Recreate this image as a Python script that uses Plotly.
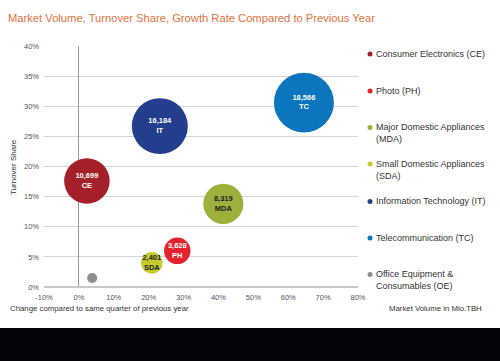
import plotly.graph_objects as go

# ---- data ----
codes = ["CE", "PH", "MDA", "SDA", "IT", "TC", "OE"]
names = ["Consumer Electronics (CE)", "Photo (PH)", "Major Domestic Appliances<br>(MDA)",
         "Small Domestic Appliances<br>(SDA)", "Information Technology (IT)",
         "Telecommunication (TC)", "Office Equipment &<br>Consumables (OE)"]
growth = [2.3, 28.2, 41.4, 20.9, 23.2, 64.5, 3.8]          # % change vs same quarter previous year
share = [17.6, 6.0, 13.8, 4.0, 26.7, 30.6, 1.5]            # turnover share %
volume = [10699, 3628, 8319, 2401, 16184, 18566, 520]      # market volume Mio.TBH
volume_labels = ["10,699", "3,628", "8,319", "2,401", "16,184", "18,566", ""]
colors = ["#a51f29", "#e1242b", "#9db03c", "#c6cc2e", "#223e8d", "#0b76be", "#8e8e8e"]
text_colors = ["white", "white", "#222222", "#222222", "white", "white", "white"]
x_ticks = [-10, 0, 10, 20, 30, 40, 50, 60, 70, 80]
y_ticks = [0, 5, 10, 15, 20, 25, 30, 35, 40]
x_tick_text = [f"{v}%" for v in x_ticks]
y_tick_text = [f"{v}%" for v in y_ticks]

W, H = 500, 361
L, R, T, B = 44, 142, 46, 74
PW, PH_ = W - L - R, H - T - B

def px(x):
    return (x - L) / PW

def py(y):
    return (H - B - y) / PH_

FONT = "Liberation Sans, Arial, sans-serif"

fig = go.Figure()
fig.add_trace(go.Scatter(
    x=growth, y=share, mode="markers+text",
    marker=dict(size=volume, sizemode="area", sizeref=2 / 0.44 ** 2,
                color=colors, opacity=1, line=dict(width=0)),
    text=[f"{v}<br>{c}" if v else "" for v, c in zip(volume_labels, codes)],
    textposition="middle center",
    textfont=dict(family=FONT, size=7.5, color=text_colors, weight="bold"),
    showlegend=False, hoverinfo="x+y+text",
))

# legend-like entries
legend_y = [54, 91, 127.5, 164, 201.5, 238, 274.5]
annotations = []
shapes = []
for nm, col, ly in zip(names, colors, legend_y):
    annotations.append(dict(x=px(375), y=py(ly - 6.5), xref="paper", yref="paper",
                            xanchor="left", yanchor="top", align="left", showarrow=False,
                            text=nm, font=dict(family=FONT, size=9, color="#333333"),
                            borderpad=0))
    shapes.append(dict(type="circle", xref="paper", yref="paper",
                       xsizemode="pixel", ysizemode="pixel",
                       xanchor=px(370), yanchor=py(ly),
                       x0=-2.5, x1=2.5, y0=-2.5, y1=2.5,
                       fillcolor=col, line=dict(width=0)))

# black band at bottom
shapes.append(dict(type="rect", xref="paper", yref="paper",
                   x0=px(-5), x1=px(W + 5), y0=py(H + 5), y1=py(328),
                   fillcolor="#030407", line=dict(width=0), layer="above"))

annotations += [
    dict(x=px(8), y=py(308), xref="paper", yref="paper", xanchor="left", yanchor="middle",
         showarrow=False, text="Change compared to same quarter of previous year",
         font=dict(family=FONT, size=7.8, color="#333333")),
    dict(x=px(484), y=py(308), xref="paper", yref="paper", xanchor="right", yanchor="middle",
         showarrow=False, text="Market Volume in Mio.TBH",
         font=dict(family=FONT, size=7.8, color="#333333")),
    dict(x=px(13), y=py(167), xref="paper", yref="paper", xanchor="center", yanchor="middle",
         showarrow=False, text="Turnover Share", textangle=-90,
         font=dict(family=FONT, size=8, color="#333333")),
]

fig.update_layout(
    width=W, height=H,
    margin=dict(l=L, r=R, t=T, b=B),
    paper_bgcolor="white", plot_bgcolor="white",
    title=dict(text="Market Volume, Turnover Share, Growth Rate Compared to Previous Year",
               x=8 / W, xanchor="left", xref="container",
               y=1 - 18 / H, yanchor="middle", yref="container",
               font=dict(family=FONT, size=11.2, color="#e0713d")),
    xaxis=dict(range=[-10, 80], tickvals=x_ticks, ticktext=x_tick_text, showgrid=False,
               zeroline=True, zerolinecolor="#9a9a9a", zerolinewidth=1,
               showline=False, ticks="", ticklabelstandoff=4,
               tickfont=dict(family=FONT, size=7.5, color="#555555")),
    yaxis=dict(range=[0, 40], tickvals=y_ticks, ticktext=y_tick_text, showgrid=True,
               gridcolor="#d4d4d4", gridwidth=1, zeroline=True, zerolinecolor="#c8c8c8",
               showline=False, ticks="", ticklabelstandoff=4,
               tickfont=dict(family=FONT, size=7.5, color="#555555")),
    annotations=annotations, shapes=shapes,
    showlegend=False,
)

fig.write_html("out.html", config={"displayModeBar": False},
               post_script="document.body.style.margin='0';")
